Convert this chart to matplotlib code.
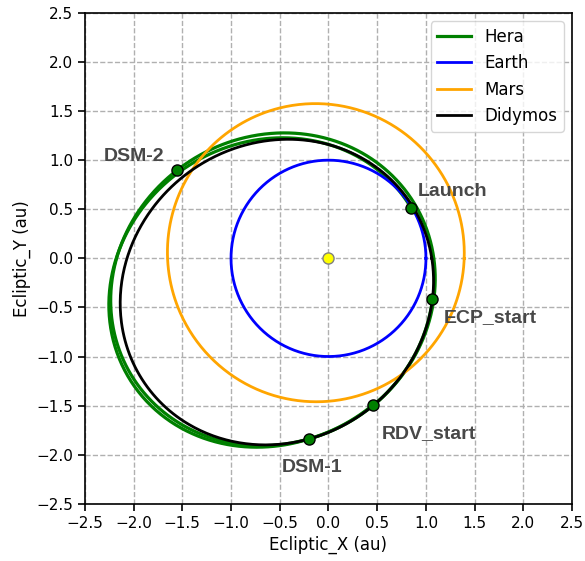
import numpy as np
import matplotlib
matplotlib.use('Agg')
import matplotlib.pyplot as plt

# planet / asteroid orbits (a [au], e, longitude of perihelion [deg])
earth_orbit = [1.0, 0.0, 0.0]
mars_orbit = [1.524, 0.093, 336.0]
didymos_orbit = [1.644, 0.384, 33.0]

# mission events (ecliptic x, y in au)
event_names = ['Launch', 'DSM-1', 'DSM-2', 'RDV_start', 'ECP_start']
event_x = [0.85, -0.20, -1.55, 0.46, 1.06]
event_y = [0.51, -1.84, 0.90, -1.49, -0.41]
label_x = [1.27, -0.17, -2.00, 1.03, 1.66]
label_y = [0.68, -2.13, 1.04, -1.78, -0.60]

# Hera transfer legs: (from event, to event, longitude of perihelion)
hera_legs = [(0, 1, 30.0), (1, 2, 29.1), (2, 3, 29.0)]

ticks = [-2.5, -2.0, -1.5, -1.0, -0.5, 0.0, 0.5, 1.0, 1.5, 2.0, 2.5]


def orbit_xy(a, e, varpi, th0=0.0, th1=360.0):
    th = np.radians(np.linspace(th0, th1, 600))
    r = a * (1 - e ** 2) / (1 + e * np.cos(th - np.radians(varpi)))
    return r * np.cos(th), r * np.sin(th)


def leg_xy(i, j, varpi):
    # conic with the sun at the focus passing through both events
    r1, t1 = np.hypot(event_x[i], event_y[i]), np.degrees(np.arctan2(event_y[i], event_x[i])) % 360
    r2, t2 = np.hypot(event_x[j], event_y[j]), np.degrees(np.arctan2(event_y[j], event_x[j])) % 360
    if t2 <= t1:
        t2 += 360
    c1, c2 = np.cos(np.radians(t1 - varpi)), np.cos(np.radians(t2 - varpi))
    B = (1 / r2 - 1 / r1) / (c2 - c1)
    A = 1 / r1 - B * c1
    th = np.radians(np.linspace(t1, t2, 600))
    r = 1 / (A + B * np.cos(th - np.radians(varpi)))
    return r * np.cos(th), r * np.sin(th)


fig = plt.figure(figsize=(5.85, 5.61), dpi=100)
ax = fig.add_axes([0.145, 0.102, 0.833, 0.875])

for k, (i, j, w) in enumerate(hera_legs):
    hx, hy = leg_xy(i, j, w)
    ax.plot(hx, hy, color='green', lw=2.3, label='Hera' if k == 0 else None)
# last leg rides along Didymos orbit
t_rdv = np.degrees(np.arctan2(event_y[3], event_x[3])) % 360
t_ecp = np.degrees(np.arctan2(event_y[4], event_x[4])) % 360
hx, hy = orbit_xy(*didymos_orbit, t_rdv, t_ecp)
ax.plot(hx, hy, color='green', lw=2.3)

ax.plot(*orbit_xy(*earth_orbit), color='blue', lw=2, label='Earth')
ax.plot(*orbit_xy(*mars_orbit), color='orange', lw=2, label='Mars')
ax.plot(*orbit_xy(*didymos_orbit), color='black', lw=2, label='Didymos')

ax.plot(0, 0, 'o', color='yellow', mec='gray', ms=8, zorder=5)
ax.plot(event_x, event_y, 'o', color='green', mec='black', ms=8, zorder=5)
for n, x, y in zip(event_names, label_x, label_y):
    ax.text(x, y, n, ha='center', va='center', fontsize=14, fontweight='bold',
            color='#484848', family='Liberation Sans')

ax.set_xlim(-2.5, 2.5)
ax.set_ylim(-2.5, 2.5)
ax.set_xticks(ticks)
ax.set_yticks(ticks)
ax.tick_params(labelsize=11, width=1.2, length=5)
for s in ax.spines.values():
    s.set_linewidth(1.2)
ax.grid(True, linestyle='--', color='#b0b0b0', lw=1)
ax.set_xlabel('Ecliptic_X (au)', fontsize=12)
ax.set_ylabel('Ecliptic_Y (au)', fontsize=12)
ax.legend(loc='upper right', fontsize=12)

fig.savefig('out.png', dpi=100)
